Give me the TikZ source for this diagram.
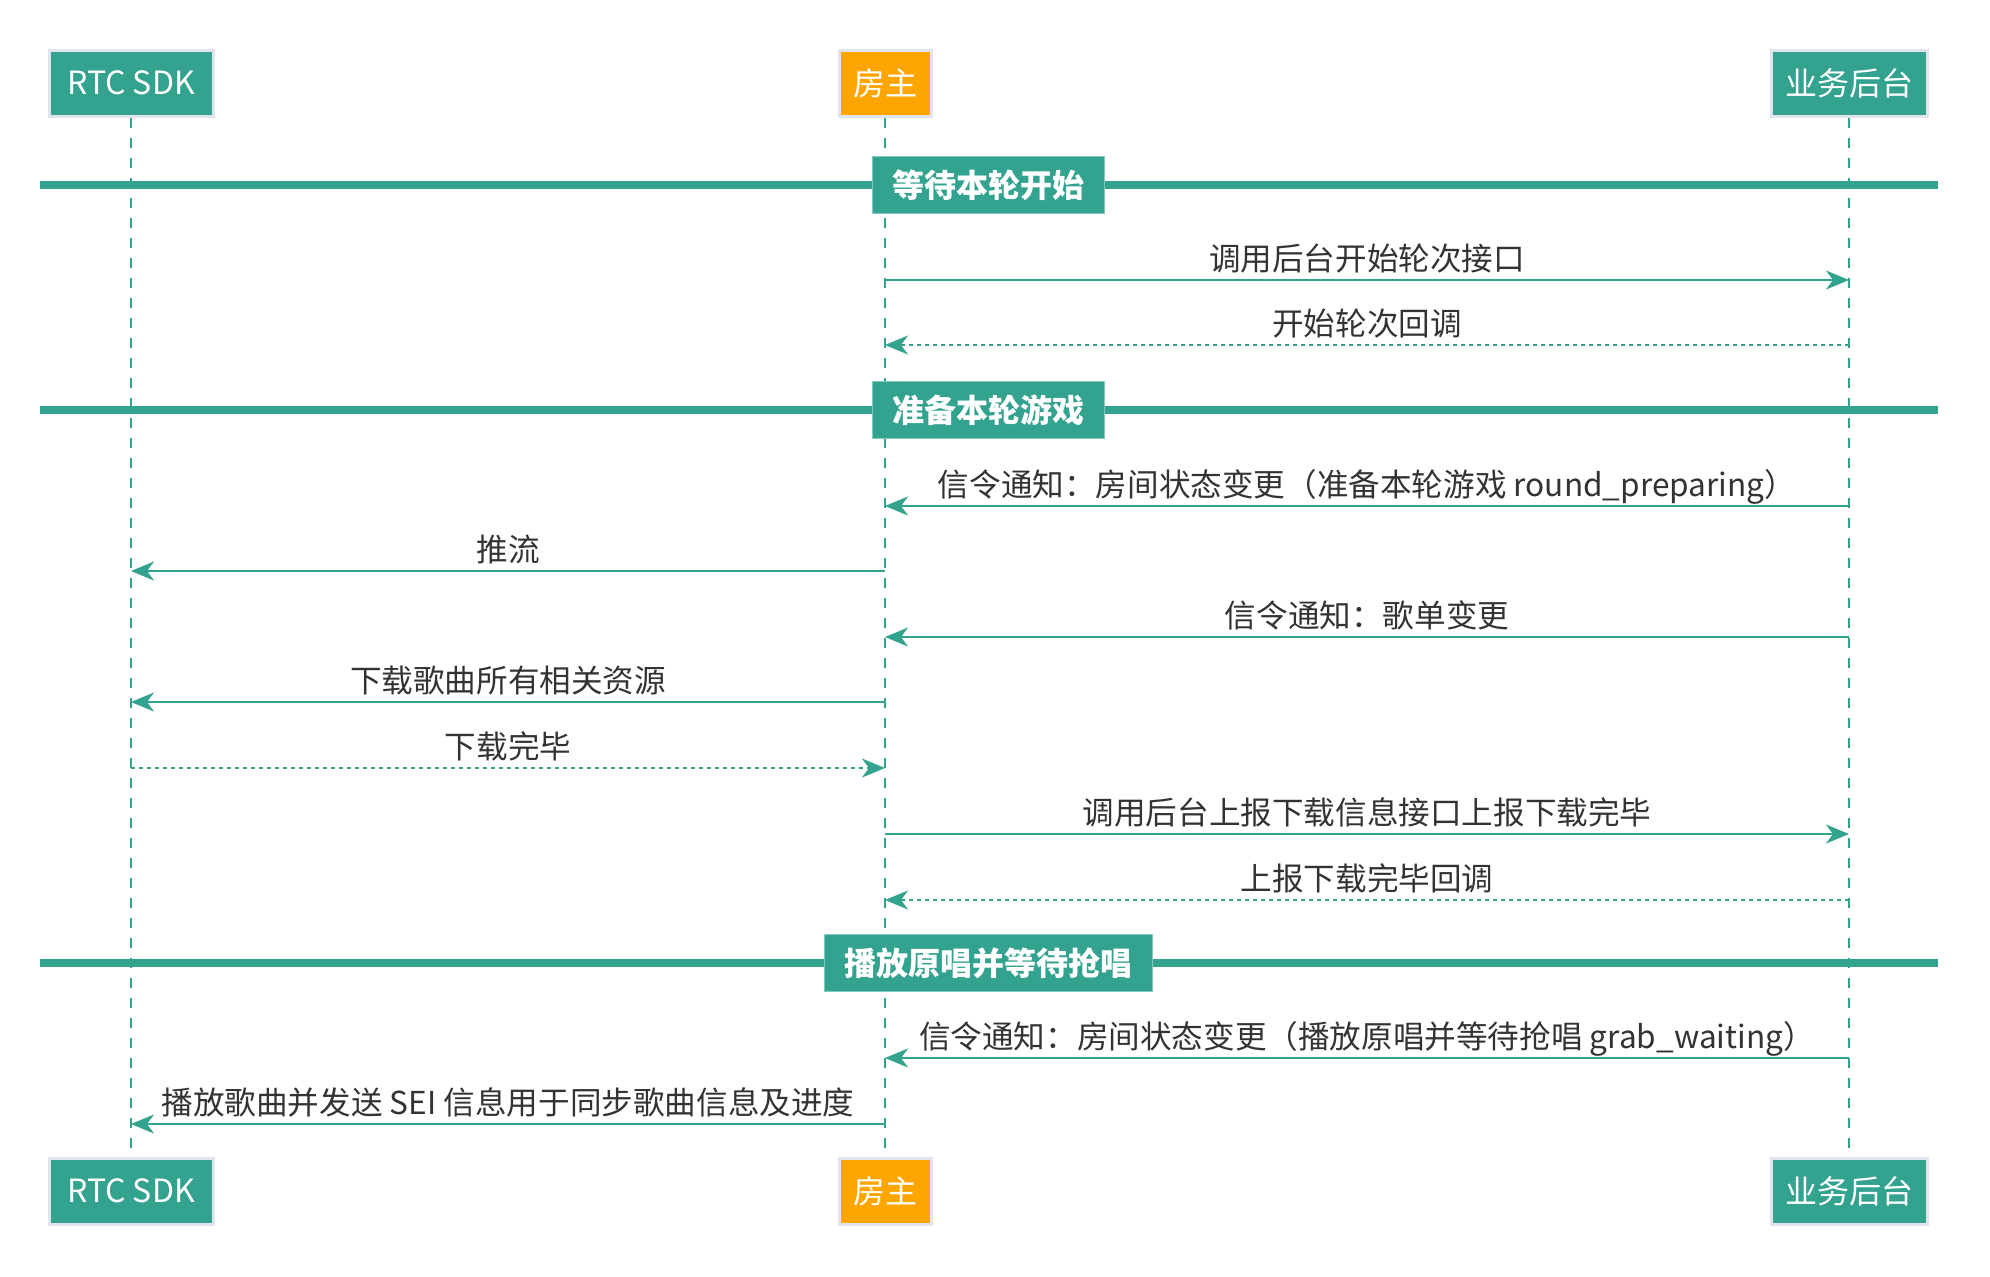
\documentclass[tikz,border=0pt]{standalone}
\usepackage{fontspec}
\setmainfont{Noto Sans CJK SC}
\usepackage{tikz}
\usetikzlibrary{positioning, arrows.meta}

\definecolor{teal}{HTML}{33A390}
\definecolor{hostorange}{HTML}{FFA500}
\definecolor{boxedge}{HTML}{DFE4EE}
\definecolor{msgtext}{HTML}{333333}

\begin{document}
\begin{tikzpicture}[
    x=0.5pt, y=-0.5pt,
    actor/.style={fill=teal, draw=boxedge, line width=1.5pt, text=white, font=\fontsize{16}{16}\selectfont,
        inner xsep=7pt, minimum height=33pt},
    sdkactor/.style={actor, minimum width=82pt},
    hostactor/.style={actor, fill=hostorange},
    phase/.style={fill=teal, draw=teal!60!white, line width=0.5pt, text=white, font=\fontsize{16}{16}\selectfont\bfseries,
        inner xsep=10pt, minimum height=28.5pt},
    phaseline/.style={draw=teal, line width=4pt},
    lifeline/.style={draw=teal, line width=1pt, dash pattern=on 5.3pt off 4.7pt},
    msg/.style={draw=teal, line width=1pt, -{Stealth[length=11.5pt, width=9.5pt, inset=3.5pt]}},
    reply/.style={msg, dash pattern=on 2pt off 2pt},
    lbl/.style={anchor=base, yshift=4.8pt, inner sep=0pt, text=msgtext, font=\fontsize{15.8}{16}\selectfont}
]
\useasboundingbox (0,0) rectangle (1990,1276);

% Participants, top and bottom
\node[sdkactor] (rtcT) at (131,83) {RTC SDK};
\node[hostactor] (hostT) at (885,83) {房主};
\node[actor] (svrT) at (1849,83) {业务后台};
\node[sdkactor] (rtcB) at (131,1191) {RTC SDK};
\node[hostactor] (hostB) at (885,1191) {房主};
\node[actor] (svrB) at (1849,1191) {业务后台};

% Lifelines
\draw[lifeline] (rtcT) -- (rtcB);
\draw[lifeline] (hostT) -- (hostB);
\draw[lifeline] (svrT) -- (svrB);

% Phase 1
\draw[phaseline] (40,185) -- (1938,185);
\node[phase] (wait) at (988,185) {等待本轮开始};

\draw[msg] (hostT |- 0,280) -- node[lbl] {调用后台开始轮次接口} (svrT |- 0,280);
\draw[reply] (svrT |- 0,345) -- node[lbl] {开始轮次回调} (hostT |- 0,345);

% Phase 2
\draw[phaseline] (40,410) -- (1938,410);
\node[phase] (prep) at (988,410) {准备本轮游戏};

\draw[msg] (svrT |- 0,506) -- node[lbl] {信令通知：房间状态变更（准备本轮游戏 round\_preparing）} (hostT |- 0,506);
\draw[msg] (hostT |- 0,571) -- node[lbl] {推流} (rtcT |- 0,571);
\draw[msg] (svrT |- 0,637) -- node[lbl] {信令通知：歌单变更} (hostT |- 0,637);
\draw[msg] (hostT |- 0,702) -- node[lbl] {下载歌曲所有相关资源} (rtcT |- 0,702);
\draw[reply] (rtcT |- 0,768) -- node[lbl] {下载完毕} (hostT |- 0,768);
\draw[msg] (hostT |- 0,834) -- node[lbl] {调用后台上报下载信息接口上报下载完毕} (svrT |- 0,834);
\draw[reply] (svrT |- 0,900) -- node[lbl] {上报下载完毕回调} (hostT |- 0,900);

% Phase 3
\draw[phaseline] (40,963) -- (1938,963);
\node[phase] (play) at (988,963) {播放原唱并等待抢唱};

\draw[msg] (svrT |- 0,1058) -- node[lbl] {信令通知：房间状态变更（播放原唱并等待抢唱 grab\_waiting）} (hostT |- 0,1058);
\draw[msg] (hostT |- 0,1124) -- node[lbl] {播放歌曲并发送 SEI 信息用于同步歌曲信息及进度} (rtcT |- 0,1124);

\end{tikzpicture}
\end{document}
